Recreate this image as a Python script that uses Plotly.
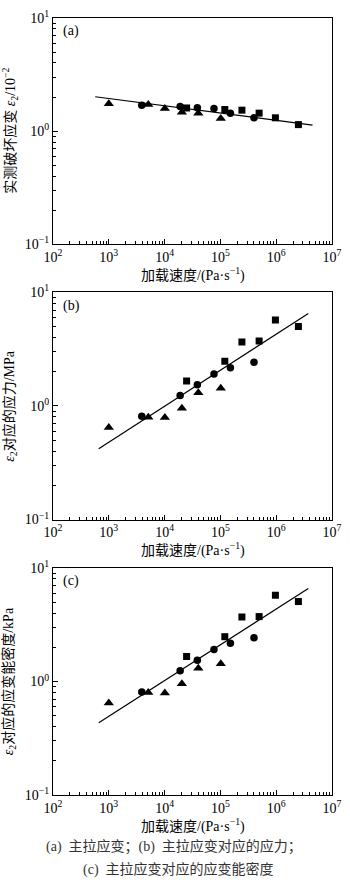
import plotly.graph_objects as go

# ---------------- data ----------------
x_tri = [1000, 5100, 10100, 20400, 40200, 101600]
x_cir = [3900, 19000, 38600, 76700, 151000, 400000]
x_sqr = [24800, 120000, 243000, 494000, 968000, 2500000]

a_tri = [1.74, 1.72, 1.58, 1.47, 1.44, 1.29]
a_cir = [1.69, 1.65, 1.61, 1.58, 1.44, 1.31]
a_sqr = [1.60, 1.55, 1.53, 1.44, 1.31, 1.14]

b_tri = [0.647, 0.797, 0.792, 0.955, 1.31, 1.43]
b_cir = [0.813, 1.24, 1.54, 1.91, 2.17, 2.43]
b_sqr = [1.66, 2.48, 3.67, 3.73, 5.71, 5.02]

c_tri = [0.645, 0.800, 0.790, 0.955, 1.31, 1.43]
c_cir = [0.807, 1.24, 1.54, 1.91, 2.17, 2.43]
c_sqr = [1.66, 2.48, 3.70, 3.73, 5.75, 5.06]

fit_a_x = [571, 4470000]
fit_a_y = [2.01, 1.13]
fit_b_x = [660, 3760000]
fit_b_y = [0.42, 6.53]
fit_c_x = [660, 3760000]
fit_c_y = [0.434, 6.6]

x_tickvals = [1e2, 1e3, 1e4, 1e5, 1e6, 1e7]
x_ticktext = ["10<sup>2</sup>", "10<sup>3</sup>", "10<sup>4</sup>", "10<sup>5</sup>", "10<sup>6</sup>", "10<sup>7</sup>"]
y_tickvals = [0.1, 1, 10]
y_ticktext = ["10<sup>−1</sup>", "10<sup>0</sup>", "10<sup>1</sup>"]

panel_labels = ["(a)", "(b)", "(c)"]
y_titles = ["实测破坏应变 <i>ε</i><sub>2</sub>/10<sup>−2</sup>",
            "<i>ε</i><sub>2</sub>对应的应力/MPa",
            "<i>ε</i><sub>2</sub>对应的应变能密度/kPa"]
x_title = "加载速度/(Pa·s<sup>−1</sup>)"
caption1 = "(a)  主拉应变；(b)  主拉应变对应的应力；"
caption2 = "(c)  主拉应变对应的应变能密度"

FONT = "Liberation Serif, Times New Roman, Noto Sans CJK SC, serif"

fig = go.Figure()

panels = [
    (a_tri, a_cir, a_sqr, fit_a_x, fit_a_y),
    (b_tri, b_cir, b_sqr, fit_b_x, fit_b_y),
    (c_tri, c_cir, c_sqr, fit_c_x, fit_c_y),
]
domains = [[0.709, 1.0], [0.3545, 0.6468], [0.0, 0.2922]]

minor_x = [m * 10 ** e for e in range(2, 7) for m in range(2, 10)]
minor_y = [m * 10 ** e for e in range(-1, 1) for m in range(2, 10)]

for i, (tri, cir, sqr, fx, fy) in enumerate(panels):
    xa = "x" if i == 0 else f"x{i+1}"
    ya = "y" if i == 0 else f"y{i+1}"
    fig.add_trace(go.Scatter(x=fx, y=fy, mode="lines", line=dict(color="black", width=1.2),
                             xaxis=xa, yaxis=ya, showlegend=False))
    fig.add_trace(go.Scatter(x=x_tri, y=tri, mode="markers",
                             marker=dict(symbol="triangle-up", size=9, color="black"),
                             xaxis=xa, yaxis=ya, showlegend=False))
    fig.add_trace(go.Scatter(x=x_cir, y=cir, mode="markers",
                             marker=dict(symbol="circle", size=7.5, color="black"),
                             xaxis=xa, yaxis=ya, showlegend=False))
    fig.add_trace(go.Scatter(x=x_sqr, y=sqr, mode="markers",
                             marker=dict(symbol="square", size=7, color="black"),
                             xaxis=xa, yaxis=ya, showlegend=False))

    xkey = "xaxis" if i == 0 else f"xaxis{i+1}"
    ykey = "yaxis" if i == 0 else f"yaxis{i+1}"
    fig.update_layout(**{
        xkey: dict(type="log", range=[2, 7], anchor=ya, domain=[0, 1],
                   tickmode="array", tickvals=x_tickvals, ticktext=x_ticktext,
                   ticks="inside", ticklen=5, tickcolor="black", tickwidth=1,
                   minor=dict(tickmode="array", tickvals=minor_x, ticks="inside",
                              ticklen=3, tickcolor="black", showgrid=False),
                   showline=True, linecolor="black", linewidth=1, mirror=True,
                   showgrid=False, zeroline=False,
                   tickfont=dict(family=FONT, size=14, color="black")),
        ykey: dict(type="log", range=[-1, 1], anchor=xa, domain=domains[i],
                   tickmode="array", tickvals=y_tickvals, ticktext=y_ticktext,
                   ticks="inside", ticklen=5, tickcolor="black", tickwidth=1,
                   minor=dict(tickmode="array", tickvals=minor_y, ticks="inside",
                              ticklen=3, tickcolor="black", showgrid=False),
                   showline=True, linecolor="black", linewidth=1, mirror=True,
                   showgrid=False, zeroline=False,
                   tickfont=dict(family=FONT, size=14, color="black")),
    })

    xd = "x domain" if i == 0 else f"x{i+1} domain"
    yd = "y domain" if i == 0 else f"y{i+1} domain"
    fig.add_annotation(text=panel_labels[i], xref=xd, yref=yd, x=0.03, y=0.985,
                       xanchor="left", yanchor="top", showarrow=False,
                       font=dict(family=FONT, size=14, color="black"))
    fig.add_annotation(text=x_title, xref=xd, yref=yd, x=0.5, y=0, yshift=-30,
                       xanchor="center", yanchor="middle", showarrow=False,
                       font=dict(family=FONT, size=14, color="black"))
    fig.add_annotation(text=y_titles[i], xref=xd, yref=yd, x=-0.155, y=0.5,
                       xanchor="center", yanchor="middle", textangle=-90, showarrow=False,
                       font=dict(family=FONT, size=14, color="black"))

fig.add_annotation(text=caption1, xref="paper", yref="paper", x=0.435, y=-52 / 787,
                   xanchor="center", yanchor="middle", showarrow=False,
                   font=dict(family=FONT, size=14, color="#333"))
fig.add_annotation(text=caption2, xref="paper", yref="paper", x=0.45, y=-75 / 787,
                   xanchor="center", yanchor="middle", showarrow=False,
                   font=dict(family=FONT, size=14, color="#333"))

fig.update_layout(width=350, height=880, margin=dict(l=53, r=11, t=8, b=85),
                  paper_bgcolor="white", plot_bgcolor="white",
                  font=dict(family=FONT, size=14, color="black"))

fig.write_html("out.html")
